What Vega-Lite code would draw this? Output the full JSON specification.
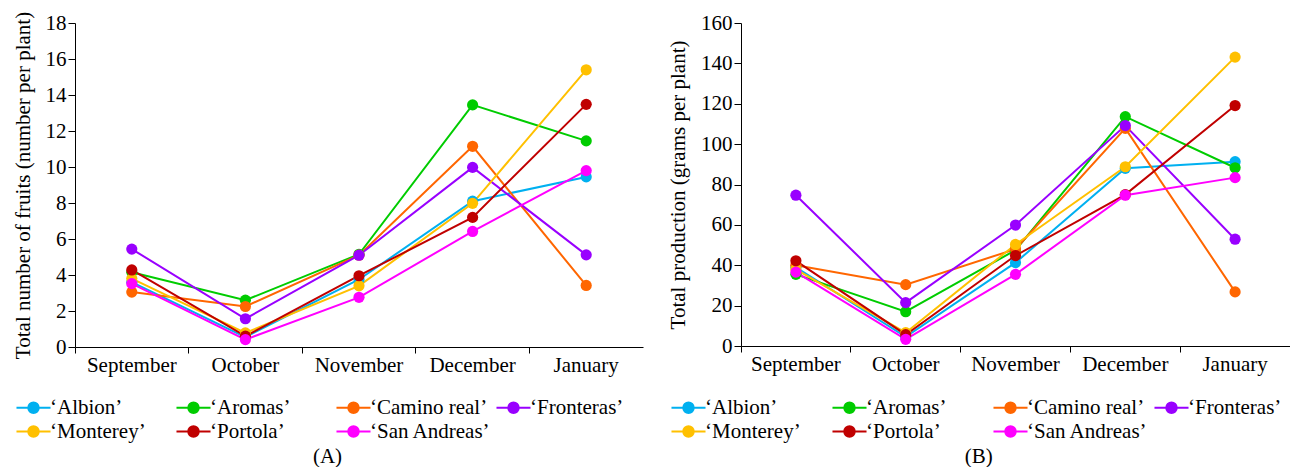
{
  "$schema": "https://vega.github.io/schema/vega-lite/v6.json",
  "padding": {"left": 12, "top": 11, "right": 0, "bottom": 0},
  "background": "white",
  "config": {
    "font": "Liberation Serif, DejaVu Serif, serif",
    "view": {"stroke": null},
    "axis": {
      "labelFont": "Liberation Serif, DejaVu Serif, serif", "labelFontSize": 21, "labelColor": "black",
      "titleFont": "Liberation Serif, DejaVu Serif, serif", "titleFontSize": 21, "titleFontWeight": "normal", "titleColor": "black",
      "domainColor": "black", "tickColor": "black", "grid": false
    },
    "legend": {"labelFont": "Liberation Serif, DejaVu Serif, serif"},
    "title": {"font": "Liberation Serif, DejaVu Serif, serif", "fontSize": 21, "fontWeight": "normal", "color": "black"}
  },
  "datasets": {
    "fruits": [
      {"month": "September", "cultivar": "‘Albion’", "value": 3.6},
      {"month": "October", "cultivar": "‘Albion’", "value": 0.55},
      {"month": "November", "cultivar": "‘Albion’", "value": 3.75},
      {"month": "December", "cultivar": "‘Albion’", "value": 8.1},
      {"month": "January", "cultivar": "‘Albion’", "value": 9.45},
      {"month": "September", "cultivar": "‘Aromas’", "value": 4.15},
      {"month": "October", "cultivar": "‘Aromas’", "value": 2.6},
      {"month": "November", "cultivar": "‘Aromas’", "value": 5.15},
      {"month": "December", "cultivar": "‘Aromas’", "value": 13.45},
      {"month": "January", "cultivar": "‘Aromas’", "value": 11.45},
      {"month": "September", "cultivar": "‘Camino real’", "value": 3.05},
      {"month": "October", "cultivar": "‘Camino real’", "value": 2.25},
      {"month": "November", "cultivar": "‘Camino real’", "value": 5.1},
      {"month": "December", "cultivar": "‘Camino real’", "value": 11.15},
      {"month": "January", "cultivar": "‘Camino real’", "value": 3.42},
      {"month": "September", "cultivar": "‘Fronteras’", "value": 5.44},
      {"month": "October", "cultivar": "‘Fronteras’", "value": 1.57},
      {"month": "November", "cultivar": "‘Fronteras’", "value": 5.1},
      {"month": "December", "cultivar": "‘Fronteras’", "value": 9.98},
      {"month": "January", "cultivar": "‘Fronteras’", "value": 5.12},
      {"month": "September", "cultivar": "‘Monterey’", "value": 3.8},
      {"month": "October", "cultivar": "‘Monterey’", "value": 0.78},
      {"month": "November", "cultivar": "‘Monterey’", "value": 3.4},
      {"month": "December", "cultivar": "‘Monterey’", "value": 7.98},
      {"month": "January", "cultivar": "‘Monterey’", "value": 15.4},
      {"month": "September", "cultivar": "‘Portola’", "value": 4.28},
      {"month": "October", "cultivar": "‘Portola’", "value": 0.6},
      {"month": "November", "cultivar": "‘Portola’", "value": 3.96},
      {"month": "December", "cultivar": "‘Portola’", "value": 7.2},
      {"month": "January", "cultivar": "‘Portola’", "value": 13.48},
      {"month": "September", "cultivar": "‘San Andreas’", "value": 3.52},
      {"month": "October", "cultivar": "‘San Andreas’", "value": 0.41},
      {"month": "November", "cultivar": "‘San Andreas’", "value": 2.76},
      {"month": "December", "cultivar": "‘San Andreas’", "value": 6.42},
      {"month": "January", "cultivar": "‘San Andreas’", "value": 9.8}
    ],
    "production": [
      {"month": "September", "cultivar": "‘Albion’", "value": 39},
      {"month": "October", "cultivar": "‘Albion’", "value": 4.5},
      {"month": "November", "cultivar": "‘Albion’", "value": 41.3},
      {"month": "December", "cultivar": "‘Albion’", "value": 88},
      {"month": "January", "cultivar": "‘Albion’", "value": 91.3},
      {"month": "September", "cultivar": "‘Aromas’", "value": 35.5},
      {"month": "October", "cultivar": "‘Aromas’", "value": 17},
      {"month": "November", "cultivar": "‘Aromas’", "value": 47.5},
      {"month": "December", "cultivar": "‘Aromas’", "value": 113.6},
      {"month": "January", "cultivar": "‘Aromas’", "value": 88.3},
      {"month": "September", "cultivar": "‘Camino real’", "value": 40},
      {"month": "October", "cultivar": "‘Camino real’", "value": 30.4},
      {"month": "November", "cultivar": "‘Camino real’", "value": 48},
      {"month": "December", "cultivar": "‘Camino real’", "value": 107.8},
      {"month": "January", "cultivar": "‘Camino real’", "value": 26.8},
      {"month": "September", "cultivar": "‘Fronteras’", "value": 74.7},
      {"month": "October", "cultivar": "‘Fronteras’", "value": 21.5},
      {"month": "November", "cultivar": "‘Fronteras’", "value": 59.9},
      {"month": "December", "cultivar": "‘Fronteras’", "value": 109.2},
      {"month": "January", "cultivar": "‘Fronteras’", "value": 52.9},
      {"month": "September", "cultivar": "‘Monterey’", "value": 38},
      {"month": "October", "cultivar": "‘Monterey’", "value": 6.6},
      {"month": "November", "cultivar": "‘Monterey’", "value": 50.3},
      {"month": "December", "cultivar": "‘Monterey’", "value": 88.8},
      {"month": "January", "cultivar": "‘Monterey’", "value": 143.1},
      {"month": "September", "cultivar": "‘Portola’", "value": 42.2},
      {"month": "October", "cultivar": "‘Portola’", "value": 5.6},
      {"month": "November", "cultivar": "‘Portola’", "value": 44.8},
      {"month": "December", "cultivar": "‘Portola’", "value": 75},
      {"month": "January", "cultivar": "‘Portola’", "value": 119.1},
      {"month": "September", "cultivar": "‘San Andreas’", "value": 36.6},
      {"month": "October", "cultivar": "‘San Andreas’", "value": 3.3},
      {"month": "November", "cultivar": "‘San Andreas’", "value": 35.5},
      {"month": "December", "cultivar": "‘San Andreas’", "value": 74.7},
      {"month": "January", "cultivar": "‘San Andreas’", "value": 83.4}
    ]
  },
  "spacing": 24,
  "resolve": {"legend": {"color": "independent"}},
  "hconcat": [
    {
      "data": {"name": "fruits"},
      "width": 568,
      "height": 324,
      "title": {"text": "(A)", "orient": "bottom", "anchor": "middle", "frame": "bounds", "offset": 4},
      "mark": {"type": "line", "strokeWidth": 2, "point": {"filled": true, "size": 125, "opacity": 1}},
      "encoding": {
        "x": {
          "field": "month", "type": "nominal",
          "sort": ["September", "October", "November", "December", "January"],
          "scale": {"type": "band", "paddingInner": 0, "paddingOuter": 0},
          "axis": {"title": null, "labelAngle": 0, "bandPosition": 0, "tickSize": 6, "labelPadding": 1}
        },
        "y": {
          "field": "value", "type": "quantitative",
          "scale": {"domain": [0, 18], "nice": false},
          "axis": {"title": "Total number of fruits (number per plant)", "values": [0, 2, 4, 6, 8, 10, 12, 14, 16, 18], "tickSize": 7, "labelPadding": 2, "titlePadding": 12}
        },
        "color": {
          "field": "cultivar", "type": "nominal",
          "scale": {
            "domain": ["‘Albion’", "‘Aromas’", "‘Camino real’", "‘Fronteras’", "‘Monterey’", "‘Portola’", "‘San Andreas’"],
            "range": ["#00B0F0", "#00CC00", "#FF6600", "#9900FF", "#FFC000", "#C00000", "#FF00FF"]
          },
          "legend": {
            "title": null, "orient": "none", "legendX": -52, "legendY": 374,
            "direction": "horizontal", "columns": 4, "gridAlign": "all",
            "columnPadding": 1, "rowPadding": 2,
            "symbolType": "M-2.27,0L2.27,0M0.7,0A0.7,0.7,0,1,1,-0.7,0A0.7,0.7,0,1,1,0.7,0Z",
            "symbolSize": 225, "symbolStrokeWidth": 2, "symbolOpacity": 1,
            "labelFontSize": 21, "labelColor": "black", "labelOffset": 6, "labelLimit": 300,
            "encode": {"symbols": {"update": {"fill": {"scale": "color", "field": "value"}, "fillOpacity": {"value": 1}}}}
          }
        }
      }
    },
    {
      "data": {"name": "production"},
      "width": 549,
      "height": 323,
      "title": {"text": "(B)", "orient": "bottom", "anchor": "middle", "frame": "bounds", "offset": 4},
      "mark": {"type": "line", "strokeWidth": 2, "point": {"filled": true, "size": 125, "opacity": 1}},
      "encoding": {
        "x": {
          "field": "month", "type": "nominal",
          "sort": ["September", "October", "November", "December", "January"],
          "scale": {"type": "band", "paddingInner": 0, "paddingOuter": 0},
          "axis": {"title": null, "labelAngle": 0, "bandPosition": 0, "tickSize": 6, "labelPadding": 1}
        },
        "y": {
          "field": "value", "type": "quantitative",
          "scale": {"domain": [0, 160], "nice": false},
          "axis": {"title": "Total production (grams per plant)", "values": [0, 20, 40, 60, 80, 100, 120, 140, 160], "tickSize": 7, "labelPadding": 2, "titlePadding": 12}
        },
        "color": {
          "field": "cultivar", "type": "nominal",
          "legend": {
            "title": null, "orient": "none", "legendX": -63, "legendY": 374,
            "direction": "horizontal", "columns": 4, "gridAlign": "all",
            "columnPadding": 2, "rowPadding": 2,
            "symbolType": "M-2.27,0L2.27,0M0.7,0A0.7,0.7,0,1,1,-0.7,0A0.7,0.7,0,1,1,0.7,0Z",
            "symbolSize": 225, "symbolStrokeWidth": 2, "symbolOpacity": 1,
            "labelFontSize": 21, "labelColor": "black", "labelOffset": 6, "labelLimit": 300,
            "encode": {"symbols": {"update": {"fill": {"scale": "color", "field": "value"}, "fillOpacity": {"value": 1}}}}
          }
        }
      }
    }
  ]
}
